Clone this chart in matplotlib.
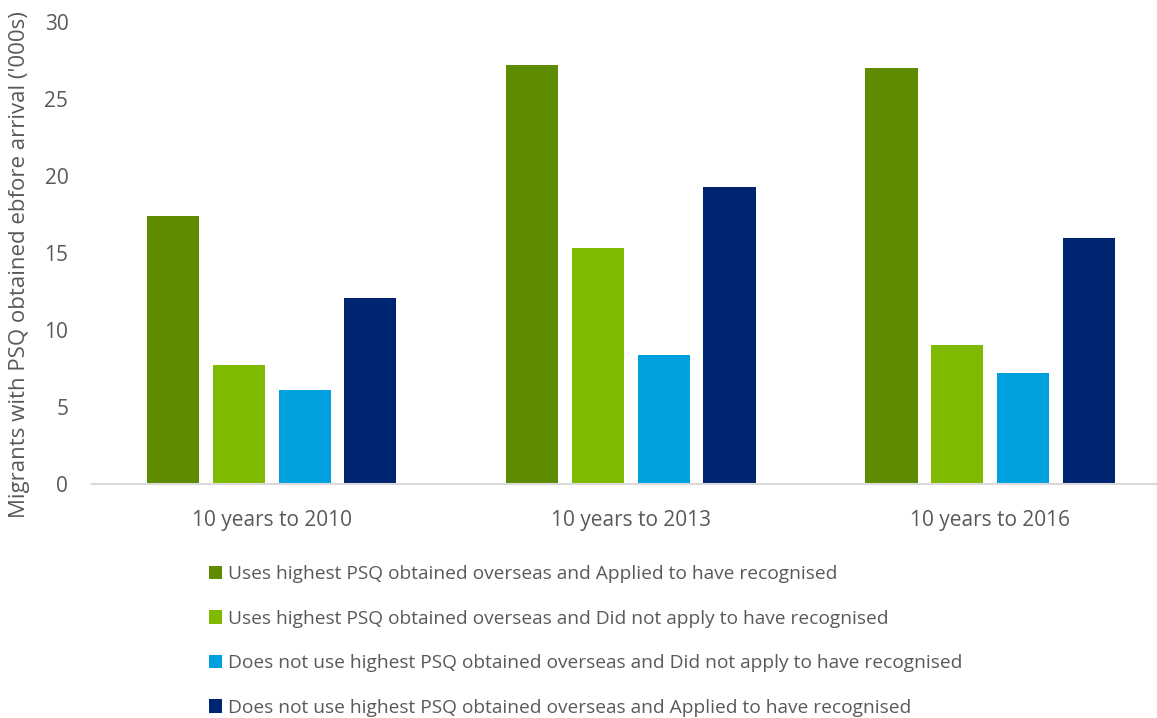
import numpy as np
import matplotlib.pyplot as plt

# Data
categories = ['10 years to 2010', '10 years to 2013', '10 years to 2016']
series_labels = [
    'Uses highest PSQ obtained overseas and Applied to have recognised',
    'Uses highest PSQ obtained overseas and Did not apply to have recognised',
    'Does not use highest PSQ obtained overseas and Did not apply to have recognised',
    'Does not use highest PSQ obtained overseas and Applied to have recognised',
]
used_applied = [17.4, 27.2, 27.0]
used_not_applied = [7.7, 15.3, 9.0]
not_used_not_applied = [6.1, 8.4, 7.2]
not_used_applied = [12.1, 19.3, 16.0]

colors = ['#5F8B00', '#7FBA00', '#00A1DE', '#002570']
text_color = '#595959'

plt.rcParams['font.family'] = ['Open Sans', 'DejaVu Sans']

fig = plt.figure(figsize=(11.57, 7.18), dpi=100)
ax = fig.add_axes([0.0795, 0.3259, 0.9205, 0.6435])

x = np.arange(len(categories))
width = 0.145
offsets = [-0.2744, -0.0919, 0.0919, 0.2744]
all_series = [used_applied, used_not_applied, not_used_not_applied, not_used_applied]

handles = []
for vals, off, col, lab in zip(all_series, offsets, colors, series_labels):
    b = ax.bar(x + off, vals, width, color=col, label=lab)
    handles.append(b)

ax.set_xlim(-0.501, 2.465)
ax.set_ylim(0, 30)
ax.set_yticks(np.arange(0, 31, 5))
ax.set_xticks(x)
ax.set_xticklabels(categories)

for side in ['top', 'right', 'left']:
    ax.spines[side].set_visible(False)
ax.spines['bottom'].set_color('#D9D9D9')
ax.spines['bottom'].set_linewidth(1.5)

ax.tick_params(axis='y', length=0, pad=17, labelsize=15, labelcolor=text_color)
ax.tick_params(axis='x', length=0, pad=19, labelsize=15, labelcolor=text_color)

ax.set_ylabel("Migrants with PSQ obtained ebfore arrival ('000s)",
              fontsize=16, color=text_color)
ax.yaxis.set_label_coords(-0.058, 0.474)

fig.legend(handles=handles, labels=series_labels, loc='upper left',
           bbox_to_anchor=(0.172, 0.226), frameon=False, fontsize=13.8,
           labelcolor=text_color, handlelength=0.7, handleheight=0.7,
           handletextpad=0.3, labelspacing=1.38, borderpad=0)

fig.savefig('out.png', dpi=100)
